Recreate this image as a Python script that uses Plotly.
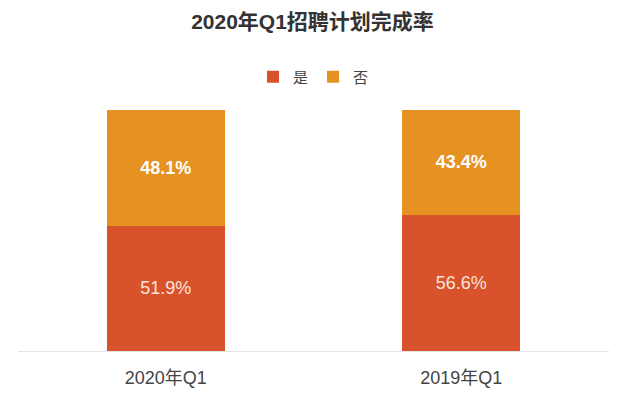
import plotly.graph_objects as go

categories = ["2020年Q1", "2019年Q1"]
yes_values = [51.9, 56.6]
no_values = [48.1, 43.4]
series_names = ["是", "否"]

font_family = "Liberation Sans, Noto Sans CJK SC, sans-serif"

fig = go.Figure()
fig.add_trace(go.Bar(
    x=categories, y=yes_values, name=series_names[0],
    marker=dict(color="#D8532B", line=dict(width=0)),
    text=[f"{v}%" for v in yes_values],
    textposition="inside", insidetextanchor="middle",
    textfont=dict(color="#FBE3DA", size=18, family=font_family),
    width=0.4,
))
fig.add_trace(go.Bar(
    x=categories, y=no_values, name=series_names[1],
    marker=dict(color="#E69223", line=dict(width=0)),
    text=[f"<b>{v}%</b>" for v in no_values],
    textposition="inside", insidetextanchor="middle",
    textfont=dict(color="#FFFFFF", size=18, family=font_family),
    width=0.4,
))

fig.update_layout(
    barmode="stack",
    width=625, height=395,
    margin=dict(l=18, r=16, t=110, b=44),
    paper_bgcolor="white", plot_bgcolor="white",
    font=dict(family=font_family, color="#444"),
    title=dict(text="<b>2020年Q1招聘计划完成率</b>", x=0.5, xanchor="center",
               y=0.944, yanchor="middle",
               font=dict(size=21, color="#333", family=font_family)),
    legend=dict(orientation="h", x=0.5, xanchor="center", y=1.137, yanchor="middle",
                font=dict(size=15, color="#444", family=font_family),
                itemwidth=30, traceorder="normal"),
    xaxis=dict(showline=True, linecolor="#E3E3E3", linewidth=1, ticks="",
               ticklabelstandoff=10, automargin=False,
               tickfont=dict(size=18, color="#444", family=font_family), showgrid=False),
    yaxis=dict(range=[0, 100], visible=False, showgrid=False, automargin=False),
    uniformtext=dict(mode=False),
)

fig.write_html("out.html")
